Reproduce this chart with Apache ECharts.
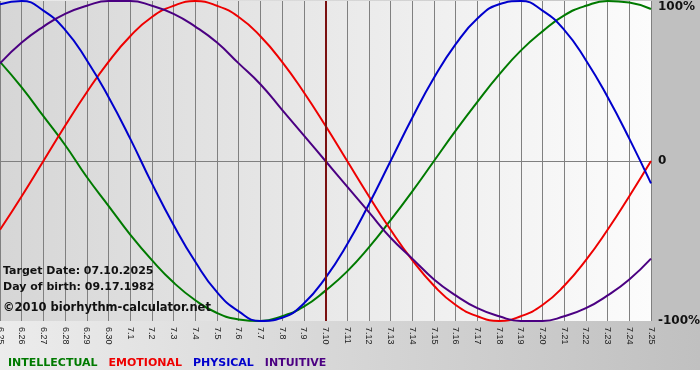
<!DOCTYPE html>
<html>
<head>
<meta charset="utf-8">
<script src="https://cdn.jsdelivr.net/npm/echarts@6/dist/echarts.min.js"></script>
<style>
html,body{margin:0;padding:0;background:#ffffff;}
#c{width:700px;height:380px;}
</style>
</head>
<body>
<div id="c"></div>
<script>
// Day labels (x axis)
var days = ['6.25','6.26','6.27','6.28','6.29','6.30','7.1','7.2','7.3','7.4','7.5','7.6','7.7','7.8','7.9','7.10','7.11','7.12','7.13','7.14','7.15','7.16','7.17','7.18','7.19','7.20','7.21','7.22','7.23','7.24','7.25'];
// Series values in percent
var intellectual = [62,46,28,10,-10,-28,-46,-62,-76,-87,-95,-99,-100,-97,-91,-81,-69,-54,-37,-19,0,19,37,54,69,81,91,97,100,99,95];
var emotional = [-43,-22,0,22,43,62,78,90,97,100,97,90,78,62,43,22,0,-22,-43,-62,-78,-90,-97,-100,-97,-90,-78,-62,-43,-22,0];
var physical = [98,100,94,82,63,40,14,-14,-40,-63,-82,-94,-100,-98,-89,-73,-52,-27,0,27,52,73,89,98,100,94,82,63,40,14,-14];
var intuitive = [61,74,84,92,97,100,100,97,92,84,74,61,48,32,16,0,-16,-32,-48,-61,-74,-84,-92,-97,-100,-100,-97,-92,-84,-74,-61];
var targetDay = '7.10';
var yTicks = {'100':'100%','0':'0','-100':'-100%'};
var seriesNames = ['INTELLECTUAL','EMOTIONAL','PHYSICAL','INTUITIVE'];
var seriesColors = ['#007a00','#ee0000','#0000cc','#4b0082'];
var infoLines = ['Target Date: 07.10.2025','Day of birth: 09.17.1982','\u00a92010 biorhythm-calculator.net'];

var chart = echarts.init(document.getElementById('c'), null, {renderer:'canvas'});
var values = [intellectual, emotional, physical, intuitive];
var series = values.map(function(v, i){
  var s = {
    name: seriesNames[i], type:'line', data:v, smooth:0.5, symbol:'none',
    lineStyle:{width:2, color:seriesColors[i]}, itemStyle:{color:seriesColors[i]}, z:3
  };
  if (i === 0) {
    s.markLine = {
      silent:true, symbol:['none','none'], label:{show:false},
      lineStyle:{color:'#7a1010', width:2, type:'solid'},
      data:[{xAxis: targetDay}]
    };
  }
  return s;
});

var option = {
  animation:false,
  backgroundColor:'transparent',
  graphic:[
    {type:'rect', z:-10, silent:true, shape:{x:0,y:0,width:700,height:370},
     style:{fill:new echarts.graphic.LinearGradient(0,0,1,0,[{offset:0,color:'#ececec'},{offset:1,color:'#c0c0c0'}])}},
    {type:'rect', z:-9, silent:true, shape:{x:651,y:0,width:49,height:321}, style:{fill:'#c0c0c0'}},
    {type:'text', left:3, top:266, z:10, style:{text:infoLines[0], font:'bold 11px "DejaVu Sans"', fill:'#111'}},
    {type:'text', left:3, top:282, z:10, style:{text:infoLines[1], font:'bold 11px "DejaVu Sans"', fill:'#111'}},
    {type:'text', left:3, top:302, z:10, style:{text:infoLines[2], font:'bold 11.5px "DejaVu Sans"', fill:'#111'}}
  ],
  grid:{left:0, right:49, top:1, bottom:59, show:true, borderWidth:0, containLabel:false, outerBoundsMode:'none',
    backgroundColor:new echarts.graphic.LinearGradient(0,0,1,0,[{offset:0,color:'#d6d6d6'},{offset:1,color:'#fcfcfc'}])},
  legend:{
    left:-2, top:353, itemWidth:0, itemHeight:0, itemGap:6, icon:'rect',
    selectedMode:false,
    textStyle:{fontFamily:'DejaVu Sans', fontWeight:'bold', fontSize:11},
    data:seriesNames.map(function(n,i){return {name:n, textStyle:{color:seriesColors[i]}};})
  },
  xAxis:{
    type:'category', data:days, boundaryGap:false,
    axisLine:{show:true, lineStyle:{color:'#808080', width:1}},
    axisTick:{show:true, length:4, lineStyle:{color:'#808080'}},
    splitLine:{show:true, lineStyle:{color:'#808080', width:1}},
    axisLabel:{rotate:-90, interval:0, margin:6, color:'#222', fontFamily:'Liberation Sans', fontSize:9}
  },
  yAxis:{
    type:'value', position:'right', min:-100, max:100, interval:100,
    axisLine:{show:false}, axisTick:{show:false},
    splitLine:{show:true, lineStyle:{color:['transparent','#808080','transparent'], width:1}},
    axisLabel:{margin:7, color:'#111', fontFamily:'DejaVu Sans', fontWeight:'bold', fontSize:12,
      verticalAlignMaxLabel:'top',
      formatter:function(v){ return yTicks[String(v)]; }}
  },
  series:series
};
chart.setOption(option);
</script>
</body>
</html>
